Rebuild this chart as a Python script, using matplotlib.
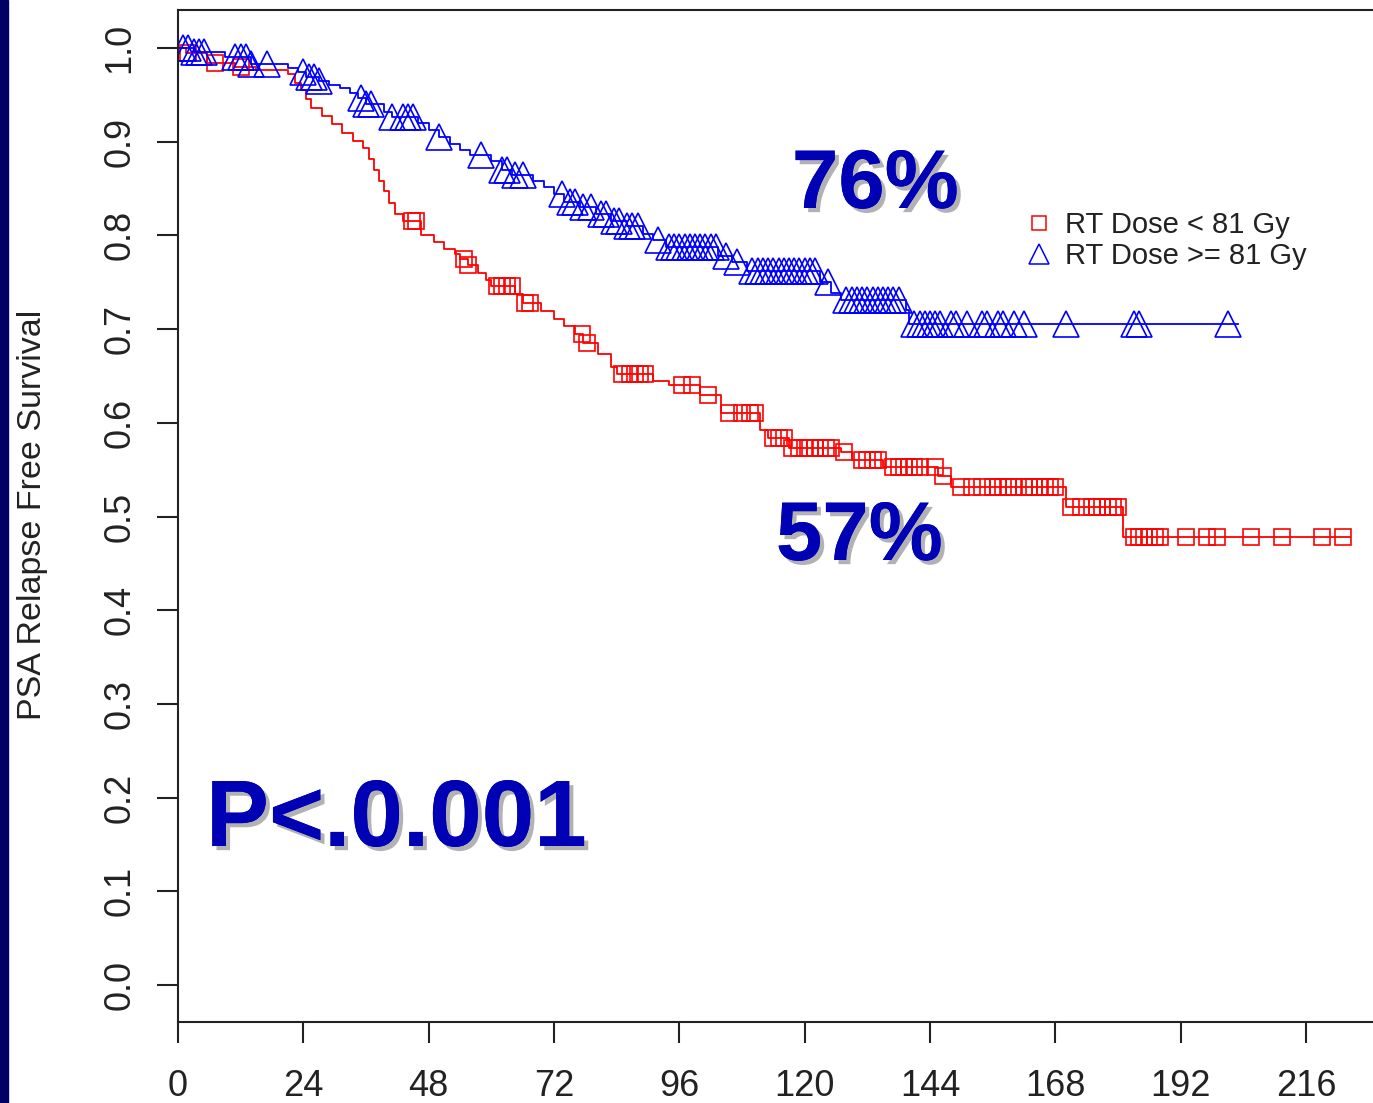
import matplotlib
matplotlib.use("Agg")
import matplotlib.pyplot as plt
import matplotlib.patheffects as pe
from matplotlib.patches import Rectangle
from matplotlib.lines import Line2D
import numpy as np

plt.rcParams['font.family'] = ['Liberation Sans', 'DejaVu Sans']

# Kaplan-Meier steps, months vs PSA relapse free survival
low_t = [0, 1.5, 5.5, 11, 15, 21, 22.5, 23.5, 24.5, 25.5, 27.5, 29.5, 31.5, 33.5,
         35.5, 36.5, 37.5, 38.5, 39.5, 40.5, 41.5, 43, 46.5, 49, 51, 53, 54, 55.5,
         57.5, 59, 60, 64.5, 66, 69.5, 72, 74, 76, 77.5, 80.5, 83, 84, 91, 94, 100,
         104, 111.5, 113, 117, 127, 129, 135, 145.5, 148, 170, 181]
low_s = [1.000, 0.995, 0.984, 0.980, 0.977, 0.972, 0.963, 0.955, 0.946, 0.936,
         0.927, 0.919, 0.909, 0.901, 0.893, 0.882, 0.870, 0.858, 0.847, 0.835,
         0.823, 0.815, 0.800, 0.793, 0.785, 0.780, 0.775, 0.768, 0.760, 0.752,
         0.746, 0.737, 0.728, 0.719, 0.711, 0.703, 0.695, 0.685, 0.673, 0.660,
         0.652, 0.645, 0.640, 0.630, 0.611, 0.592, 0.584, 0.573, 0.569, 0.560,
         0.553, 0.543, 0.531, 0.510, 0.478]
low_end = 224.5
low_cens = [2, 7, 12, 44.8, 45.5, 54.8, 55.5, 61, 62, 63, 64, 66.5, 67.4, 77.4, 78.3,
            85, 86.5, 87.5, 88.5, 89.5, 96.5, 98.5, 101.5, 105.5, 108, 109.5, 110.5,
            114, 115, 116, 117.5, 119, 120, 121, 122, 123, 124, 125, 127.5, 131, 132,
            133, 134, 137, 138, 139, 140, 141, 142, 145, 146.5, 150, 152, 154, 156,
            157, 158, 159, 160, 162, 163, 164, 165, 166, 167, 168, 171, 173, 175, 176,
            177, 178, 179, 180, 183, 184, 185, 186, 187, 188, 193, 197, 199, 205.5,
            211.5, 219, 223]

high_t = [0, 3, 9, 14, 21, 23, 24.5, 27, 29, 31, 33, 34.5, 36, 39.5, 41, 46, 48, 50,
          52, 54, 56, 60, 62, 64, 68, 70, 72, 74, 77, 80, 83, 86, 89, 91, 93.5, 103.5,
          106, 109, 123, 125, 127, 139.5, 140]
high_s = [1.000, 0.996, 0.990, 0.983, 0.979, 0.974, 0.969, 0.965, 0.961, 0.957,
          0.952, 0.947, 0.940, 0.932, 0.926, 0.920, 0.913, 0.905, 0.898, 0.891,
          0.886, 0.879, 0.870, 0.864, 0.858, 0.852, 0.844, 0.836, 0.830, 0.823,
          0.815, 0.810, 0.802, 0.795, 0.788, 0.778, 0.772, 0.762, 0.750, 0.739,
          0.731, 0.720, 0.706]
high_end = 203
high_cens = [1, 2, 3, 4, 5, 11, 12, 13, 14, 17, 24, 25, 26, 27, 35, 36, 37, 41, 43,
             44, 45, 50, 58, 62, 63, 64.5, 66, 73.5, 75, 76, 77.5, 79, 81, 82, 83.5,
             84.5, 86, 87, 88, 92, 94, 95, 96, 97, 98, 99, 100, 101, 102, 103, 105,
             107, 110, 111, 112, 113, 114, 115, 116, 117, 118, 119, 120, 121, 122,
             124.5, 128, 129, 130, 131, 132, 133, 134, 135, 136, 137, 138, 141, 142,
             143, 144, 145, 146, 148, 149, 151, 154, 155, 157, 158, 160, 162, 170,
             183, 184, 201]

x_ticks = [0, 24, 48, 72, 96, 120, 144, 168, 192, 216]
y_ticks = [0.0, 0.1, 0.2, 0.3, 0.4, 0.5, 0.6, 0.7, 0.8, 0.9, 1.0]
group_labels = ['RT Dose < 81 Gy', 'RT Dose >= 81 Gy']


def surv_at(ts, ss, times):
    idx = np.searchsorted(ts, times, side='right') - 1
    return np.asarray(ss)[idx]


W, H = 1373, 1103
fig = plt.figure(figsize=(W / 100, H / 100), dpi=100)
fig.patches.append(Rectangle((0, 0), 8 / W, 1, transform=fig.transFigure,
                             color='#000066', zorder=0))
ax = fig.add_axes([178 / W, 1 - 1022 / H, 1 - 178 / W, (1022 - 10) / H])

for ts, ss, end, cens, col, mk in [(low_t, low_s, low_end, low_cens, 'red', 's'),
                                   (high_t, high_s, high_end, high_cens, 'blue', '^')]:
    ax.step(ts + [end], ss + [ss[-1]], where='post', color=col, lw=1.3)
    ax.plot(cens, surv_at(ts, ss, cens), ls='none', marker=mk, ms=12 if mk == 's' else 19,
            mfc='none', mec=col, mew=1.2)

ax.set_xlim(0, (W - 178) / 5.222)
ax.set_ylim(-0.0395, 1.0406)
ax.set_xticks(x_ticks)
ax.set_xticklabels([str(v) for v in x_ticks])
ax.set_yticks(y_ticks)
ax.set_yticklabels([f'{v:.1f}' for v in y_ticks], rotation=90, va='center')
ax.tick_params(axis='both', length=15, width=1.5, color='#222222',
               labelsize=26, labelcolor='#222222')
ax.tick_params(axis='x', pad=19)
ax.tick_params(axis='y', pad=14)
for side in ['left', 'bottom', 'top']:
    ax.spines[side].set_linewidth(1.5)
    ax.spines[side].set_color('#222222')
ax.spines['right'].set_visible(False)

fig.text(33 / W, 1 - 515 / H, 'PSA Relapse Free Survival', rotation=90,
         ha='center', va='center', fontsize=24.5, color='#222222')

handles = [Line2D([], [], ls='none', marker='s', ms=10, mfc='none', mec='red', mew=1.1),
           Line2D([], [], ls='none', marker='^', ms=14, mfc='none', mec='blue', mew=1.1)]
ax.legend(handles, group_labels, loc='upper left', bbox_to_anchor=(1024 / W, 1 - 211 / H),
          bbox_transform=fig.transFigure, frameon=False, fontsize=21,
          handlelength=1.0, handletextpad=0.4, labelspacing=0.12,
          borderpad=0, borderaxespad=0, labelcolor='#222222')

shadow = [pe.withSimplePatchShadow(offset=(3, -3), shadow_rgbFace='#555555', alpha=0.45),
          pe.Normal()]
big_blue = '#0000b4'
fig.text(792 / W, 1 - 208 / H, '76%', fontsize=60, fontweight='bold', color=big_blue,
         ha='left', va='baseline', path_effects=shadow)
fig.text(776 / W, 1 - 560 / H, '57%', fontsize=60, fontweight='bold', color=big_blue,
         ha='left', va='baseline', path_effects=shadow)
fig.text(206 / W, 1 - 846 / H, 'P<.0.001', fontsize=68, fontweight='bold', color=big_blue,
         ha='left', va='baseline', path_effects=shadow)

fig.savefig('out.png', dpi=100)
